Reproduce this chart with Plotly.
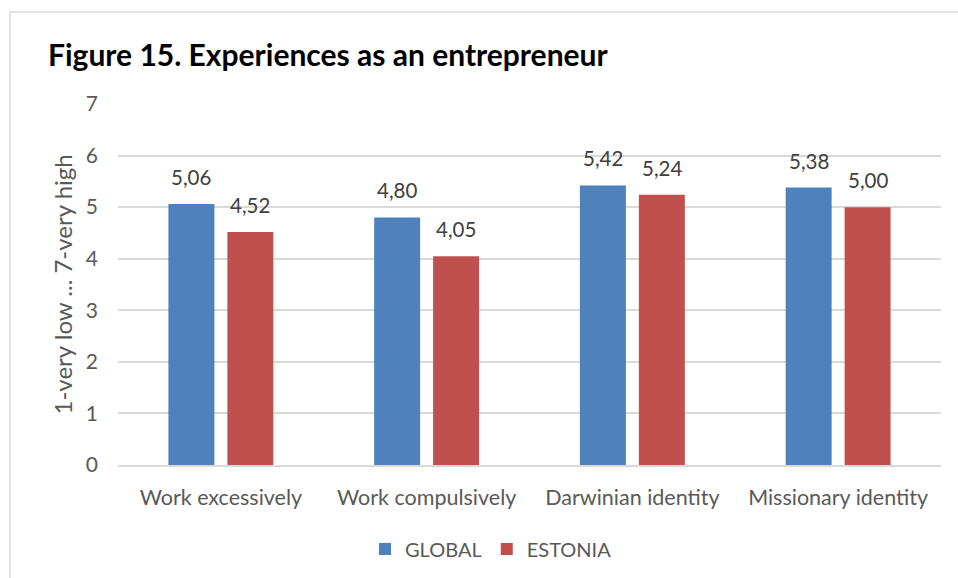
import plotly.graph_objects as go

categories = ["Work excessively", "Work compulsively", "Darwinian identity", "Missionary identity"]
global_values = [5.06, 4.80, 5.42, 5.38]
estonia_values = [4.52, 4.05, 5.24, 5.00]
y_ticks = [0, 1, 2, 3, 4, 5, 6, 7]

W, H = 958, 578
L, R, T, B = 118, 17, 104, 113
plot_w = W - L - R
plot_h = H - T - B

FONT = "Lato"
TICK_COLOR = "#595959"
LABEL_COLOR = "#404040"
BLUE = "#4F81BD"
RED = "#C0504D"
GROUP_OFFSET = 29.5  # px from category centre to each bar's centre


def px_x(p):
    return (p - L) / plot_w


def px_y(p):
    return (H - B - p) / plot_h


def fmt(v):
    return f"{v:.2f}".replace(".", ",")


fig = go.Figure()
fig.add_trace(go.Bar(name="GLOBAL", x=categories, y=global_values,
                     marker=dict(color=BLUE, line=dict(width=0))))
fig.add_trace(go.Bar(name="ESTONIA", x=categories, y=estonia_values,
                     marker=dict(color=RED, line=dict(width=0))))

# value labels above each bar
annotations = []
for series, shift in ((global_values, -GROUP_OFFSET), (estonia_values, GROUP_OFFSET)):
    for cat, val in zip(categories, series):
        annotations.append(dict(
            x=cat, y=val, xref="x", yref="y", text=fmt(val),
            xshift=shift, yshift=13, yanchor="bottom", xanchor="center",
            showarrow=False,
            font=dict(family=FONT, size=20.5, color=LABEL_COLOR),
        ))

annotations.append(dict(
    text="1-very low ... 7-very high", textangle=-90,
    xref="paper", yref="paper", x=px_x(62), y=0.5,
    xanchor="center", yanchor="middle", showarrow=False,
    font=dict(family=FONT, size=24, color=TICK_COLOR),
))

fig.update_layout(
    width=W, height=H,
    margin=dict(l=L, r=R, t=T, b=B, autoexpand=False),
    paper_bgcolor="white", plot_bgcolor="white",
    separators=",.",
    barmode="group", bargap=0.427, bargroupgap=0.22,
    font=dict(family=FONT, color=TICK_COLOR),
    title=dict(
        text="<b>Figure 15. Experiences as an entrepreneur</b>",
        font=dict(family=FONT, size=30, color="black"),
        xref="container", yref="container",
        x=48 / W, xanchor="left", y=1 - 55 / H, yanchor="middle",
    ),
    xaxis=dict(
        showgrid=False, showline=True, linecolor="#d9d9d9", linewidth=1.5,
        ticks="", tickfont=dict(family=FONT, size=21.5, color=TICK_COLOR),
        ticklabelstandoff=12,
    ),
    yaxis=dict(
        range=[0, 7], tickvals=y_ticks, showgrid=True, gridcolor="#d9d9d9",
        gridwidth=1.5, zeroline=False, showline=False, ticks="",
        tickfont=dict(family=FONT, size=21, color=TICK_COLOR),
        ticklabelstandoff=19,
    ),
    legend=dict(
        orientation="h", xref="container", yref="container",
        x=491 / W, xanchor="center", y=1 - 549 / H, yanchor="middle",
        font=dict(family=FONT, size=20, color=TICK_COLOR),
        itemwidth=30, traceorder="normal",
    ),
    annotations=annotations,
    shapes=[
        dict(type="line", xref="paper", yref="paper",
             x0=px_x(10), x1=px_x(W + 10), y0=px_y(12), y1=px_y(12),
             line=dict(color="#d9d9d9", width=1.5)),
        dict(type="line", xref="paper", yref="paper",
             x0=px_x(10), x1=px_x(10), y0=px_y(12), y1=px_y(H + 10),
             line=dict(color="#d9d9d9", width=1.5)),
    ],
)

fig.write_html("out.html")
